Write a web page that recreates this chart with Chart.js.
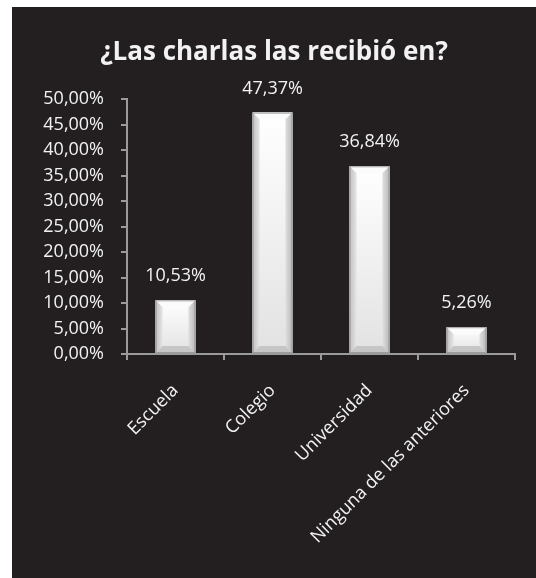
<!DOCTYPE html>
<html>
<head>
<meta charset="utf-8">
<script src="https://cdn.jsdelivr.net/npm/chart.js@4.4.1/dist/chart.umd.min.js"></script>
<style>
  html, body { margin: 0; padding: 0; background: #ffffff; }
  #wrap {
    position: absolute; left: 12px; top: 7px;
    width: 524px; height: 571px;
    background: #231f20;
  }
</style>
</head>
<body>
<div id="wrap"><canvas id="myChart"></canvas></div>
<script>
const categories = ['Escuela', 'Colegio', 'Universidad', 'Ninguna de las anteriores'];
const percentages = [10.53, 47.37, 36.84, 5.26];
const yTicks = [0, 5, 10, 15, 20, 25, 30, 35, 40, 45, 50];

const FONT = "'Open Sans', sans-serif";
const TEXT = '#f2f2f2';
const AXIS = '#9a9a9a';

const pct = v => v.toFixed(2).replace('.', ',') + '%';

// bevelled white bars, drawn over the library's own bar rectangles
const bevelBars = {
    id: 'bevelBars',
    afterDatasetsDraw(chart) {
        const ctx = chart.ctx;
        chart.getDatasetMeta(0).data.forEach(bar => {
            const l = bar.x - bar.width / 2, r = bar.x + bar.width / 2;
            const t = bar.y, b = bar.base;
            const bv = Math.min(7, (b - t) / 3);
            ctx.save();
            let g = ctx.createLinearGradient(0, t, 0, b);
            g.addColorStop(0, '#ffffff');
            g.addColorStop(1, '#e2e2e2');
            ctx.fillStyle = g;
            ctx.fillRect(l, t, r - l, b - t);
            // top face
            ctx.fillStyle = '#fbfbfb';
            ctx.beginPath();
            ctx.moveTo(l, t); ctx.lineTo(r, t); ctx.lineTo(r - bv, t + bv); ctx.lineTo(l + bv, t + bv);
            ctx.fill();
            // sides
            g = ctx.createLinearGradient(l, 0, l + bv, 0);
            g.addColorStop(0, '#c0c0c0');
            g.addColorStop(1, '#e6e6e6');
            ctx.fillStyle = g;
            ctx.beginPath();
            ctx.moveTo(l, t); ctx.lineTo(l + bv, t + bv); ctx.lineTo(l + bv, b - bv); ctx.lineTo(l, b);
            ctx.fill();
            g = ctx.createLinearGradient(r, 0, r - bv, 0);
            g.addColorStop(0, '#b8b8b8');
            g.addColorStop(1, '#e0e0e0');
            ctx.fillStyle = g;
            ctx.beginPath();
            ctx.moveTo(r, t); ctx.lineTo(r - bv, t + bv); ctx.lineTo(r - bv, b - bv); ctx.lineTo(r, b);
            ctx.fill();
            // bottom face
            ctx.fillStyle = '#c6c6c6';
            ctx.beginPath();
            ctx.moveTo(l, b); ctx.lineTo(l + bv, b - bv); ctx.lineTo(r - bv, b - bv); ctx.lineTo(r, b);
            ctx.fill();
            ctx.strokeStyle = '#9c9c9c';
            ctx.lineWidth = 1;
            ctx.strokeRect(l + 0.5, t + 0.5, r - l - 1, b - t - 1);
            ctx.restore();
        });
    }
};

// value labels above each bar
const valueLabels = {
    id: 'valueLabels',
    afterDatasetsDraw(chart) {
        const ctx = chart.ctx;
        ctx.save();
        ctx.font = '18px ' + FONT;
        ctx.fillStyle = TEXT;
        ctx.textAlign = 'center';
        ctx.textBaseline = 'middle';
        chart.getDatasetMeta(0).data.forEach((bar, i) => {
            ctx.fillText(pct(percentages[i]), bar.x, bar.y - 24);
        });
        ctx.restore();
    }
};

const ctx = document.getElementById('myChart').getContext('2d');
const myChart = new Chart(ctx, {
    type: 'bar',
    data: {
        labels: categories,
        datasets: [{
            data: percentages,
            backgroundColor: '#eeeeee',
            barPercentage: 0.41,
            categoryPercentage: 1
        }]
    },
    options: {
        responsive: true,
        maintainAspectRatio: false,
        animation: false,
        layout: { padding: { left: 21, right: 21, top: 0, bottom: 0 } },
        plugins: {
            legend: { display: false },
            tooltip: { enabled: false },
            title: {
                display: true,
                text: '¿Las charlas las recibió en?',
                color: TEXT,
                font: { family: FONT, size: 26, weight: 'bold', lineHeight: 1.2 },
                padding: { top: 30, bottom: 31 }
            }
        },
        scales: {
            x: {
                grid: { drawOnChartArea: false, drawTicks: true, tickLength: 6, color: AXIS, lineWidth: 2 },
                border: { color: AXIS, width: 2 },
                ticks: { color: TEXT, font: { family: FONT, size: 18 }, maxRotation: 45, minRotation: 45, padding: 20 },
                afterFit: s => { s.height = 224; }
            },
            y: {
                min: 0,
                max: 50,
                afterBuildTicks: s => { s.ticks = yTicks.map(v => ({ value: v })); },
                grid: { drawOnChartArea: false, drawTicks: true, tickLength: 6, color: AXIS, lineWidth: 2 },
                border: { color: AXIS, width: 2 },
                ticks: { color: TEXT, font: { family: FONT, size: 18 }, padding: 17, callback: v => pct(v) },
                afterFit: s => { s.width = 94; }
            }
        }
    },
    plugins: [bevelBars, valueLabels]
});
</script>
</body>
</html>
